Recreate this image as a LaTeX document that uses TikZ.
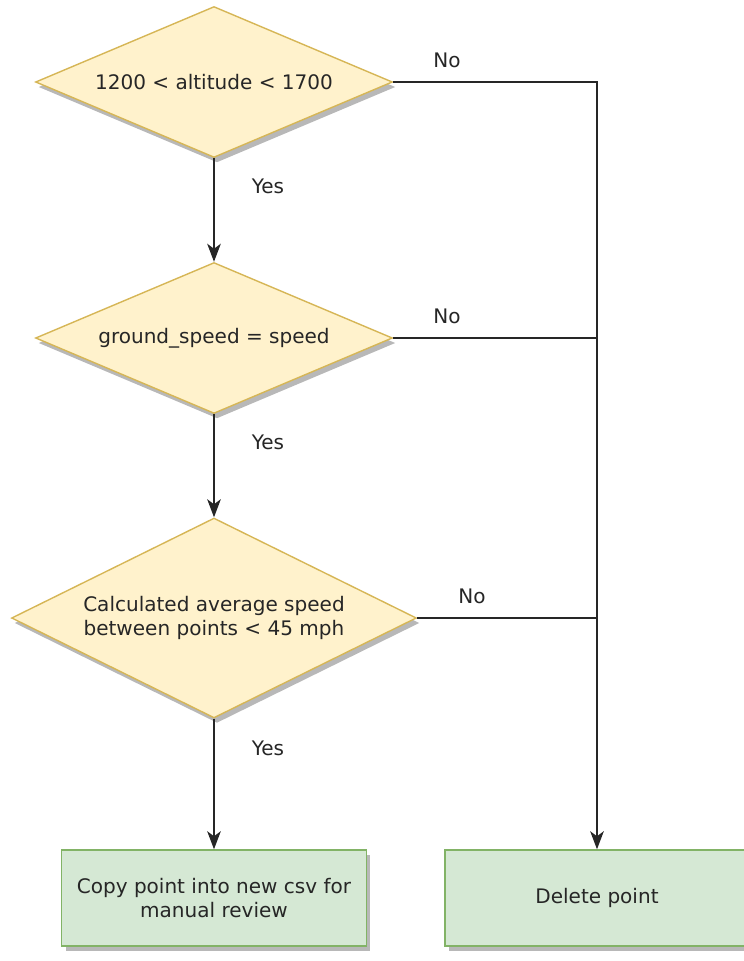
\documentclass[tikz,border=0pt]{standalone}
\usepackage{fontspec}
\setmainfont{DejaVu Sans}
\usetikzlibrary{shapes.geometric,arrows.meta,shadows}
\definecolor{decfill}{HTML}{FFF2CC}
\definecolor{decline}{HTML}{D6B656}
\definecolor{actfill}{HTML}{D5E8D4}
\definecolor{actline}{HTML}{82B366}
\tikzset{
  decision/.style={diamond, fill=decfill, draw=decline, line width=0.8pt, inner sep=0pt, align=center,
    drop shadow={shadow xshift=0.06cm, shadow yshift=-0.1cm, fill=black!28, opacity=1}},
  action/.style={rectangle, fill=actfill, draw=actline, line width=0.8pt, inner sep=0pt, align=center,
    minimum height=1.92cm, drop shadow={shadow xshift=0.08cm, shadow yshift=-0.1cm, fill=black!28, opacity=1}},
  flow/.style={line width=1.3pt, draw=black!85},
  flowarrow/.style={flow, -{Stealth[length=0.36cm,width=0.27cm,inset=0.1cm]}},
  lbl/.style={text=black!85}
}
\begin{document}
\begin{tikzpicture}[x=0.02cm, y=-0.02cm, font=\fontsize{11.4}{14}\selectfont, text=black!85]
\useasboundingbox (0,0) rectangle (744,961);
\node[decision, shape aspect=2.36, minimum width=7.14cm, minimum height=3.02cm] (alt) at (214,82){1200 < altitude < 1700};
\node[decision, shape aspect=2.36, minimum width=7.14cm, minimum height=3.02cm] (gs) at (214,338){ground\_speed = speed};
\node[decision, shape aspect=2.02, minimum width=8.1cm, minimum height=4cm] (avg) at (214,618){Calculated average speed\\between points < 45 mph};
\node[action, minimum width=6.1cm] (copy) at (214,898){Copy point into new csv for\\manual review};
\node[action, minimum width=6.08cm] (del) at (597,898){Delete point};
\draw[flowarrow](alt) -- (gs);
\draw[flowarrow](gs) -- (avg);
\draw[flowarrow](avg) -- (copy);
\draw[flowarrow](alt.east) -| (del.north);
\draw[flow](gs.east) -- (gs.east -| del.north);
\draw[flow](avg.east) -- (avg.east -| del.north);
\node[lbl] (no1) at (447,60){No};
\node[lbl] (no2) at (447,316){No};
\node[lbl] (no3) at (472,596){No};
\node[lbl] (yes1) at (268,186){Yes};
\node[lbl] (yes2) at (268,442){Yes};
\node[lbl] (yes3) at (268,748){Yes};
\end{tikzpicture}
\end{document}
